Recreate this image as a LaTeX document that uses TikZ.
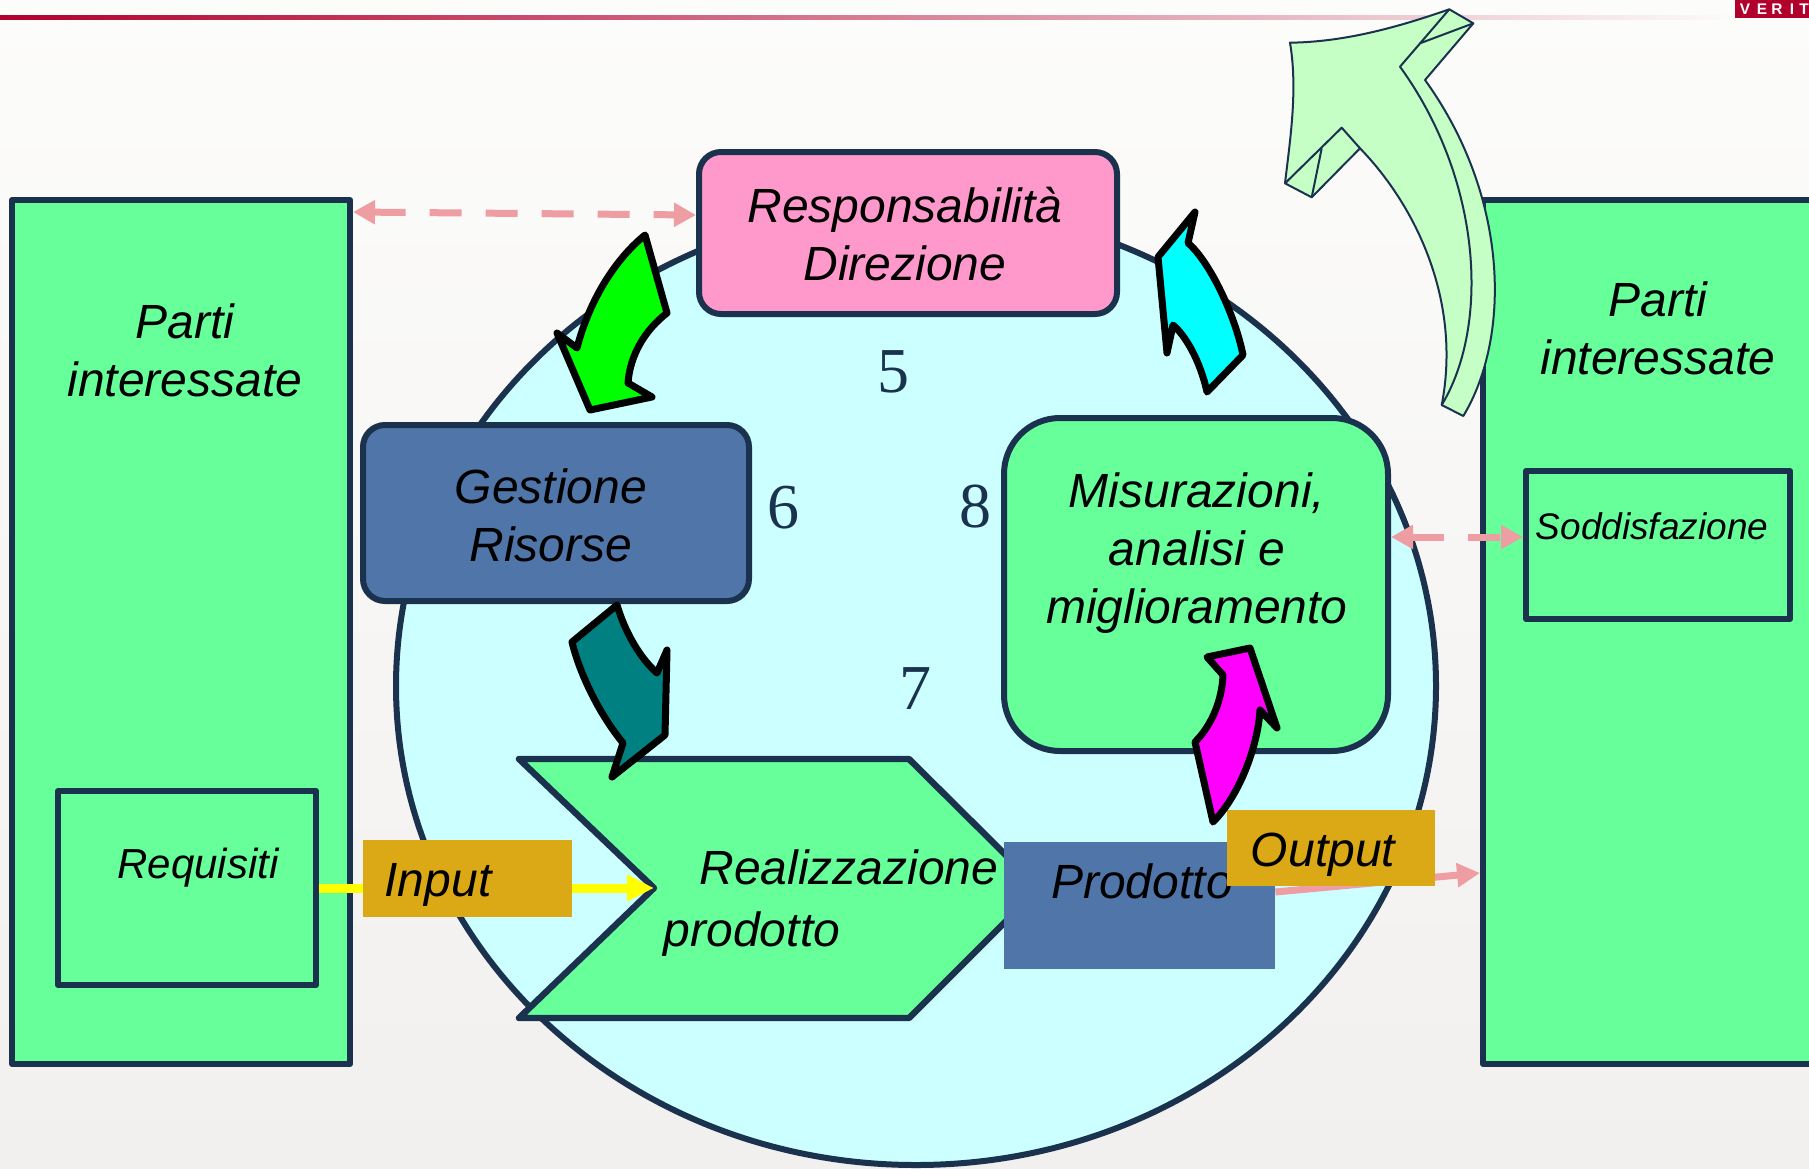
\documentclass[tikz,border=0pt]{standalone}
\usepackage{fontspec}
\setmainfont{Liberation Sans}
\newfontfamily\numfont{Liberation Serif}
\usetikzlibrary{arrows.meta}
\definecolor{navy}{RGB}{26,50,78}
\definecolor{skyfill}{RGB}{204,255,255}
\definecolor{boxgreen}{RGB}{102,255,153}
\definecolor{boxpink}{RGB}{255,153,204}
\definecolor{steel}{RGB}{80,117,168}
\definecolor{gold}{RGB}{218,169,21}
\definecolor{arrpink}{RGB}{238,157,162}
\definecolor{paleleaf}{RGB}{197,255,197}
\definecolor{brandred}{RGB}{178,0,45}
\definecolor{fadered}{RGB}{215,110,125}
\definecolor{bgtop}{RGB}{252,252,251}
\definecolor{bgbot}{RGB}{242,240,238}
\definecolor{arrgreen}{RGB}{0,255,0}
\definecolor{arrcyan}{RGB}{0,255,255}
\definecolor{arrteal}{RGB}{0,128,128}
\definecolor{arrmagenta}{RGB}{255,0,255}
\definecolor{arryellow}{RGB}{255,255,0}
\begin{document}
\begin{tikzpicture}[x=0.5pt,y=-0.5pt,line join=round,
	box/.style={draw=navy,line width=3pt,inner sep=0pt},
	flat/.style={inner sep=0pt},
	lbl/.style={font=\fontsize{24}{29}\selectfont\itshape,align=center},
	num/.style={font=\numfont\fontsize{32}{36}\selectfont,text=navy},
	pinkdash/.style={draw=arrpink,line width=3.5pt,dash pattern=on 16pt off 12pt,
		{Triangle[length=11pt,width=11.5pt]}-{Triangle[length=11pt,width=11.5pt]}},
	curvy/.style={draw=black,line width=3.5pt}]
	\useasboundingbox (0,0) rectangle (1809,1168);
	% background and top bar
	\shade[top color=bgtop,bottom color=bgbot] (0,0) rectangle (1809,1168);
	\shade[left color=brandred,middle color=fadered,right color=bgtop] (0,15) rectangle (1740,19);
	\fill[brandred] (1735,0) rectangle (1815,18);
	\foreach \l/\x in {V/1745,E/1762,R/1777,I/1792,T/1804}
		\node[text=white,font=\fontsize{7.7}{8}\selectfont\bfseries,flat] at (\x,9.5) {\l};
	% side boxes
	\node[box,fill=boxgreen,minimum width=169pt,minimum height=432pt] (leftbox) at (181,632) {};
	\node[lbl] (leftname) at (185,350) {Parti\\interessate};
	\node[box,fill=boxgreen,minimum width=129pt,minimum height=97pt] (reqbox) at (187,888) {};
	\node[lbl,font=\fontsize{21}{25}\selectfont\itshape] (reqname) at (198,868) {Requisiti};
	\node[box,fill=boxgreen,minimum width=168.5pt,minimum height=432pt] (rightbox) at (1651.5,632) {};
	\node[lbl] (rightname) at (1658,328) {Parti\\interessate};
	\node[box,fill=boxgreen,minimum width=132pt,minimum height=74pt] (soddbox) at (1658,545) {};
	\node[lbl,font=\fontsize{18.5}{22}\selectfont\itshape] (soddname) at (1652,526) {Soddisfazione};
	% process circle
	\draw[draw=navy,line width=3pt,fill=skyfill] (916,686) ellipse (520 and 479);
	\node[box,fill=boxpink,rounded corners=11pt,minimum width=209pt,minimum height=81pt] (resp) at (908,233) {};
	\node[lbl] (respname) at (905,234) {Responsabilità\\Direzione};
	\node[box,fill=steel,rounded corners=11pt,minimum width=193pt,minimum height=88pt] (gest) at (556,513) {};
	\node[lbl] (gestname) at (551,515) {Gestione\\Risorse};
	\node[box,fill=boxgreen,rounded corners=28pt,minimum width=192pt,minimum height=166.5pt] (mis) at (1196,584.5) {};
	\node[lbl] (misname) at (1197,553) {Misurazioni,\\analisi e\\miglioramento};
	\draw[draw=navy,line width=3.2pt,fill=boxgreen] (519,759) -- (909,759) -- (1039,888)
		-- (909,1018) -- (519,1018) -- (654,888) -- cycle;
	\coordinate (notch) at (654,888);
	\node[lbl] (realname) at (849,867) {Realizzazione};
	\node[lbl] (prodname) at (752,934) {prodotto};
	% clause numbers
	\node[num] (n5) at (893,372) {5};
	\node[num] (n6) at (783,508) {6};
	\node[num] (n8) at (975,507) {8};
	\node[num] (n7) at (915,689) {7};
	% input / output
	\draw[arryellow,line width=4.5pt,-{Triangle[length=13.5pt,width=12.5pt]}] (reqbox.east) -- (notch);
	\node[flat,fill=gold,minimum width=104.5pt,minimum height=38.5pt] (inbox) at (467.5,878.5) {};
	\node[lbl] (inname) at (438,885) {Input};
	\node[flat,fill=steel,minimum width=135.5pt,minimum height=63.5pt] (prodotto) at (1139.5,905.5) {};
	\node[lbl] (prodotname) at (1142,881) {Prodotto};
	\draw[arrpink,line width=3.5pt,-{Triangle[length=11.5pt,width=11.5pt]}]
		(prodotto.east |- 0,892) -- (rightbox.west |- 0,873);
	\node[flat,fill=gold,minimum width=104pt,minimum height=38pt] (outbox) at (1331,848) {};
	\node[lbl] (outname) at (1323,855) {Output};
	% feedback links
	\draw[pinkdash] (leftbox.east |- 0,212) -- (resp.west |- 0,215);
	\draw[pinkdash] (mis.east |- 0,537) -- (soddbox.west |- 0,537);
	% curved arrows
	\draw[curvy,fill=arrgreen] (645,235) -- (667,313) .. controls (645,330) and (630,355) .. (628,383)
		-- (652,397) -- (590,410) -- (557,333) -- (577,348)
		.. controls (588,305) and (612,262) .. (645,235) -- cycle;
	\draw[curvy,fill=arrcyan] (1195,212) -- (1188,243) .. controls (1210,262) and (1235,315) .. (1243,355)
		-- (1207,392) .. controls (1200,360) and (1185,335) .. (1173,325)
		-- (1167,353) -- (1158,257) -- cycle;
	\draw[curvy,fill=arrteal] (572,642) -- (617,605) .. controls (625,632) and (640,658) .. (657,673)
		-- (667,650) -- (665,735) -- (612,777) -- (623,743)
		.. controls (600,715) and (580,675) .. (572,642) -- cycle;
	\draw[curvy,fill=arrmagenta] (1213,822) -- (1195,742) .. controls (1212,725) and (1222,700) .. (1223,675)
		-- (1207,657) -- (1250,648) -- (1277,728) -- (1260,710)
		.. controls (1258,745) and (1240,795) .. (1213,822) -- cycle;
	% satisfaction arrow
	\draw[navy,line width=1pt,fill=paleleaf] (1441.7,405) -- (1463.3,416)
		.. controls (1512,335) and (1508,195) .. (1425,80) -- (1473.3,23.3) -- (1449.3,9.3)
		.. controls (1390,30) and (1340,42) .. (1290,42.7)
		.. controls (1298,90) and (1290,140) .. (1285,183.3) -- (1311.7,197.3) -- (1360,148.3)
		.. controls (1415,205) and (1462,300) .. (1441.7,405) -- cycle;
	\draw[navy,line width=1pt] (1441.7,405) .. controls (1490,325) and (1482,180) .. (1400,66.7) -- (1449.3,9.3);
	\draw[navy,line width=1pt] (1420,43.3) -- (1473.3,23.3);
	\draw[navy,line width=1pt] (1285,183.3) -- (1341.7,127.7) -- (1360,148.3);
	\draw[navy,line width=1pt] (1321.7,148.3) -- (1311.7,197.3);
\end{tikzpicture}
\end{document}
